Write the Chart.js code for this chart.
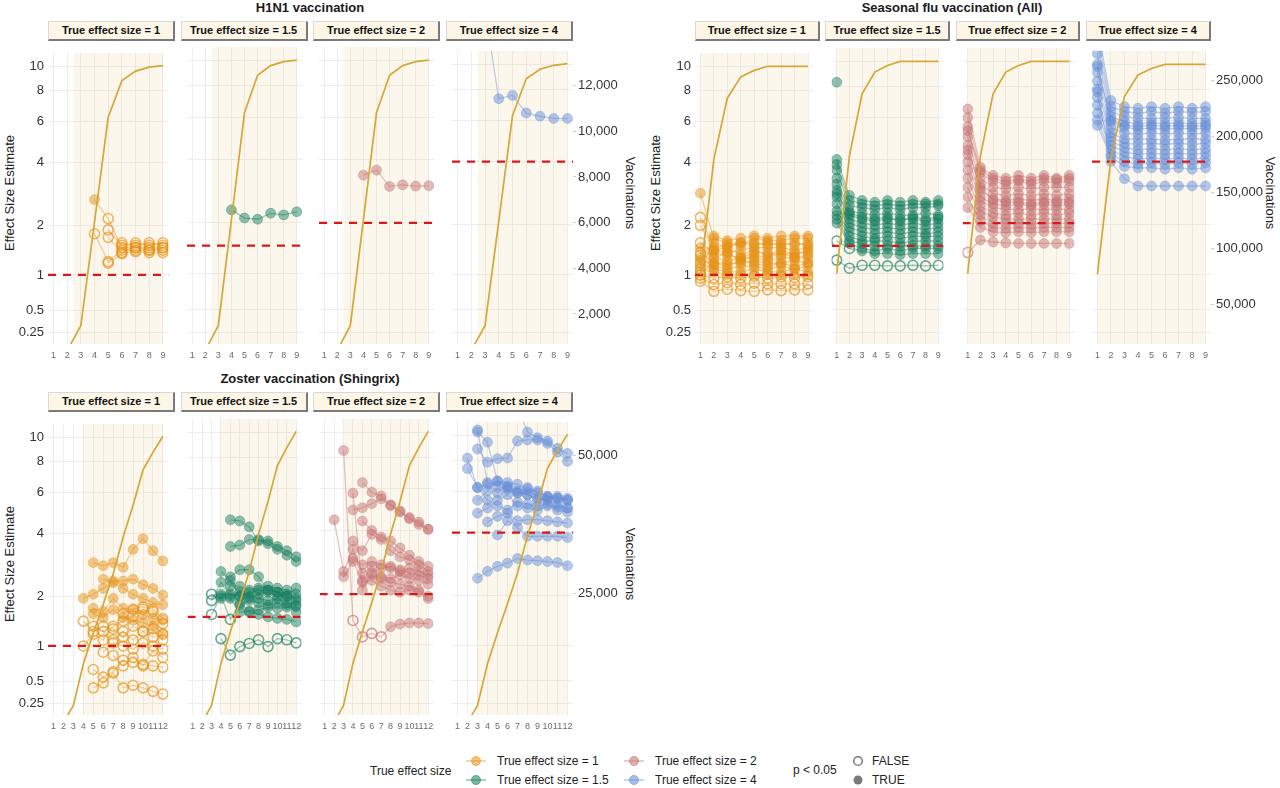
<!DOCTYPE html>
<html>
<head>
<meta charset="utf-8">
<script src="https://cdn.jsdelivr.net/npm/chart.js@4.4.1/dist/chart.umd.min.js"></script>
<style>
  body { margin: 0; background: #fff; font-family: "Liberation Sans", Arial, sans-serif; }
  #wrap { position: relative; width: 1280px; height: 788px; overflow: hidden; }
  #wrap canvas { position: absolute; }
  .title { position: absolute; font-weight: bold; font-size: 13px; color: #1a1a1a; white-space: nowrap; transform: translateX(-50%); line-height: 15px; }
  .strip { position: absolute; height: 20px; background: #fdf6e6; box-sizing: border-box;
           border-top: 1px solid #d8d8d8; border-left: 1px solid #d8d8d8;
           border-right: 2px solid #7a7a7a; border-bottom: 2px solid #7a7a7a;
           font-weight: bold; font-size: 11px; text-align: center; line-height: 17px; color: #111; white-space: nowrap; }
  .ytitle, .y2title { position: absolute; font-size: 13px; color: #222; white-space: nowrap; line-height: 15px; }
  .ytitle { transform: translate(-50%, -50%) rotate(-90deg); }
  .y2title { transform: translate(-50%, -50%) rotate(90deg); }
  .lg { position: absolute; font-size: 12px; color: #222; white-space: nowrap; line-height: 14px; }
  .lg svg { position: absolute; }
</style>
</head>
<body>
<div id="wrap"></div>
<script>
// ---- données ----
const n = null;
const trueEffects = [1, 1.5, 2, 4];
const effectTicks = [0.25, 0.5, 1, 2, 4, 6, 8, 10];
const panelLabels = ['True effect size = 1', 'True effect size = 1.5', 'True effect size = 2', 'True effect size = 4'];

const h1n1Weeks = [1, 2, 3, 4, 5, 6, 7, 8, 9];
const seasonWeeks = [1, 2, 3, 4, 5, 6, 7, 8, 9];
const zosterWeeks = [1, 2, 3, 4, 5, 6, 7, 8, 9, 10, 11, 12];

// vaccinations cumulées (axe de droite)
const h1n1Vacc = [0, 400, 1490, 6060, 10680, 12300, 12720, 12890, 12960];
const seasonVacc = [76800, 180600, 235700, 254900, 260700, 264400, 264400, 264400, 264400];
const zosterVacc = [0, 1500, 4620, 12170, 17800, 23070, 28630, 35360, 41210, 47660, 50880, 53810];
const h1n1VaccTicks = [2000, 4000, 6000, 8000, 10000, 12000];
const seasonVaccTicks = [50000, 100000, 150000, 200000, 250000];
const zosterVaccTicks = [25000, 50000];

// début de la zone ombrée (semaine)
const h1n1Shade = [2.45, 2.45, 2.45, 2.45];
const seasonShade = [1, 1, 1, 1];
const zosterShade = [3.9, 3.9, 3.0, 2.9];

// H1N1
const h1n1Es1 = [
  [n, n, n, 2.7, 2.17, 1.5, 1.5, 1.5, 1.5],
  [n, n, n, 1.8, 1.23, 1.45, 1.45, 1.45, 1.45],
  [n, n, n, n, 1.89, 1.55, 1.6, 1.55, 1.6],
  [n, n, n, n, 1.72, 1.4, 1.42, 1.4, 1.4],
  [n, n, n, n, 1.2, 1.38, 1.55, 1.6, 1.55],
  [n, n, n, n, n, 1.6, 1.5, 1.45, 1.5]
];
const h1n1Sig1 = ['000100000', '0', '0', '0', '0', '0'];
const h1n1Es15 = [[n, n, n, 2.33, 2.12, 2.09, 2.24, 2.2, 2.28]];
const h1n1Sig15 = ['1'];
const h1n1Es2 = [[n, n, n, 3.4, 3.58, 3.02, 3.07, 3.03, 3.04]];
const h1n1Sig2 = ['1'];
const h1n1Es4 = [[n, n, 16, 7.33, 7.55, 6.41, 6.22, 6.09, 6.09]];
const h1n1Sig4 = ['1'];

// Grippe saisonnière
const seasonEs1 = [
  [2.9, 1.7, 1.6, 1.55, 1.7, 1.65, 1.65, 1.7, 1.7],
  [2.2, 1.5, 1.55, 1.6, 1.6, 1.55, 1.6, 1.55, 1.6],
  [2.0, 1.45, 1.4, 1.45, 1.5, 1.5, 1.5, 1.45, 1.5],
  [1.6, 1.4, 1.35, 1.3, 1.4, 1.4, 1.35, 1.4, 1.4],
  [1.5, 1.3, 1.25, 1.3, 1.3, 1.25, 1.3, 1.3, 1.3],
  [1.4, 1.2, 1.2, 1.2, 1.25, 1.2, 1.2, 1.25, 1.2],
  [1.3, 1.15, 1.1, 1.15, 1.15, 1.1, 1.15, 1.1, 1.15],
  [1.2, 1.1, 1.05, 1.05, 1.1, 1.05, 1.05, 1.1, 1.05],
  [1.1, 1.05, 1.0, 1.0, 1.0, 1.0, 1.0, 1.0, 1.0],
  [1.25, 1.45, 1.5, 1.35, 1.45, 1.35, 1.45, 1.35, 1.45],
  [1.0, 0.95, 0.97, 0.95, 0.98, 0.95, 0.97, 0.96, 0.97],
  [0.95, 0.85, 0.88, 0.85, 0.87, 0.86, 0.86, 0.86, 0.86],
  [0.9, 0.75, 0.78, 0.76, 0.75, 0.77, 0.76, 0.77, 0.77],
  [1.35, 1.6, 1.5, 1.6, 1.55, 1.6, 1.55, 1.6, 1.55],
  [1.15, 1.3, 1.4, 1.25, 1.35, 1.3, 1.4, 1.3, 1.35],
  [1.05, 1.2, 1.15, 1.25, 1.2, 1.15, 1.2, 1.15, 1.2],
  [1.0, 1.75, 1.65, 1.7, 1.75, 1.7, 1.75, 1.75, 1.75]
];
const seasonSig1 = ['1', '011111111', '011111111', '011111111', '1', '011111111', '1', '011111111', '011111111',
  '1', '0', '0', '0', '011111111', '1', '011111111', '011111111'];
const seasonEs15 = [
  [4.0, 2.75, 2.6, 2.55, 2.6, 2.55, 2.6, 2.55, 2.6],
  [3.8, 2.6, 2.5, 2.45, 2.5, 2.45, 2.5, 2.5, 2.5],
  [3.6, 2.45, 2.4, 2.35, 2.4, 2.35, 2.4, 2.4, 2.45],
  [3.3, 2.3, 2.25, 2.2, 2.25, 2.2, 2.2, 2.25, 2.2],
  [3.1, 2.2, 2.1, 2.05, 2.1, 2.1, 2.1, 2.05, 2.1],
  [2.9, 2.1, 2.0, 1.95, 2.0, 1.95, 2.0, 1.95, 2.0],
  [2.8, 2.25, 2.15, 2.1, 2.15, 2.05, 2.15, 2.1, 2.15],
  [2.7, 2.0, 1.9, 1.85, 1.9, 1.85, 1.9, 1.85, 1.9],
  [2.5, 1.9, 1.8, 1.75, 1.8, 1.75, 1.8, 1.75, 1.8],
  [2.3, 1.8, 1.7, 1.65, 1.7, 1.65, 1.7, 1.7, 1.7],
  [2.2, 1.7, 1.6, 1.6, 1.6, 1.55, 1.6, 1.6, 1.6],
  [2.1, 1.6, 1.55, 1.5, 1.5, 1.5, 1.5, 1.5, 1.5],
  [2.0, 1.55, 1.45, 1.4, 1.45, 1.4, 1.45, 1.45, 1.45],
  [1.6, 1.45, 1.4, 1.35, 1.35, 1.33, 1.35, 1.35, 1.35],
  [1.23, 1.09, 1.14, 1.14, 1.13, 1.13, 1.14, 1.13, 1.14],
  [8.3, n, n, n, n, n, n, n, n]
];
const seasonSig15 = ['1', '1', '1', '1', '1', '1', '1', '1', '1', '1', '1', '1', '1', '001111111', '0', '1'];
const seasonEs2 = [
  [6.5, 3.7, 3.4, 3.3, 3.4, 3.3, 3.4, 3.3, 3.4],
  [6.0, 3.5, 3.2, 3.1, 3.2, 3.1, 3.2, 3.15, 3.2],
  [5.5, 3.3, 3.0, 2.95, 3.0, 2.95, 3.0, 3.0, 3.0],
  [5.3, 3.6, 3.3, 3.2, 3.25, 3.2, 3.3, 3.25, 3.3],
  [5.0, 3.1, 2.8, 2.75, 2.8, 2.75, 2.8, 2.75, 2.8],
  [4.6, 2.9, 2.65, 2.6, 2.65, 2.6, 2.65, 2.6, 2.65],
  [4.4, 3.0, 2.6, 2.55, 2.55, 2.5, 2.55, 2.55, 2.55],
  [4.2, 2.7, 2.5, 2.45, 2.5, 2.45, 2.5, 2.45, 2.5],
  [3.9, 2.6, 2.4, 2.35, 2.35, 2.35, 2.35, 2.35, 2.35],
  [3.6, 2.45, 2.25, 2.2, 2.25, 2.2, 2.25, 2.2, 2.25],
  [3.3, 2.3, 2.15, 2.1, 2.1, 2.1, 2.1, 2.1, 2.1],
  [3.0, 2.2, 2.0, 2.0, 2.0, 1.98, 2.0, 2.0, 2.0],
  [2.7, 2.05, 1.9, 1.88, 1.9, 1.88, 1.9, 1.9, 1.9],
  [2.4, 1.9, 1.8, 1.78, 1.8, 1.78, 1.8, 1.8, 1.8],
  [1.37, 1.62, 1.58, 1.56, 1.55, 1.55, 1.55, 1.55, 1.55]
];
const seasonSig2 = ['1', '1', '1', '1', '1', '1', '1', '1', '1', '1', '1', '1', '1', '1', '011111111'];
const seasonEs4 = [
  [14, 7.2, 6.8, 6.7, 6.8, 6.7, 6.8, 6.7, 6.8],
  [13, 6.8, 6.5, 6.4, 6.5, 6.4, 6.5, 6.45, 6.5],
  [12, 6.5, 6.2, 6.1, 6.1, 6.1, 6.15, 6.1, 6.1],
  [11, 6.2, 5.9, 5.8, 5.85, 5.8, 5.85, 5.8, 5.85],
  [10, 5.9, 5.6, 5.5, 5.55, 5.5, 5.55, 5.5, 5.55],
  [9.8, 6.0, 5.7, 5.65, 5.7, 5.65, 5.7, 5.65, 5.7],
  [9.3, 5.6, 5.3, 5.25, 5.3, 5.25, 5.3, 5.25, 5.3],
  [8.6, 5.3, 5.0, 5.0, 5.0, 4.95, 5.0, 5.0, 5.0],
  [8.0, 5.1, 4.8, 4.75, 4.8, 4.75, 4.8, 4.75, 4.8],
  [7.4, 4.9, 4.6, 4.5, 4.55, 4.5, 4.55, 4.5, 4.55],
  [6.9, 4.7, 4.4, 4.3, 4.35, 4.3, 4.35, 4.3, 4.35],
  [6.4, 4.5, 4.2, 4.1, 4.15, 4.1, 4.15, 4.1, 4.15],
  [6.0, 4.3, 4.0, 3.9, 3.95, 3.9, 3.95, 3.9, 3.95],
  [5.7, 4.2, 3.8, 3.75, 3.75, 3.7, 3.75, 3.7, 3.75],
  [7.8, 4.0, 3.35, 3.1, 3.1, 3.1, 3.1, 3.1, 3.1]
];
const seasonSig4 = ['1', '1', '1', '1', '1', '1', '1', '1', '1', '1', '1', '1', '1', '1', '1'];

// Zona (Shingrix)
const zosterEs1 = [
  [n, n, n, n, 2.95, 2.85, 2.95, 2.8, 3.4, 3.8, 3.35, 3.0],
  [n, n, n, 1.95, 2.05, 2.2, 2.4, 2.4, 2.45, 2.3, 2.2, 2.03],
  [n, n, n, n, 1.72, 1.65, 1.95, 1.72, 1.69, 1.58, 1.5, 1.47],
  [n, n, n, n, 1.6, 1.52, 1.69, 1.52, 1.47, 1.42, 1.35, 1.22],
  [n, n, n, 1.45, 1.25, 1.35, 1.3, 1.15, 1.35, 1.25, 1.15, 1.2],
  [n, n, n, 1.0, 1.2, 1.1, 1.35, 1.45, 1.55, 1.7, 1.65, 1.4],
  [n, n, n, n, 0.65, 0.55, 0.62, 0.78, 0.75, 0.72, 0.7, 0.68],
  [n, n, n, n, 0.42, 0.48, 0.6, 0.42, 0.45, 0.42, 0.38, 0.35],
  [n, n, n, n, n, n, 0.85, 0.7, 0.82, 0.7, 0.92, 0.82],
  [n, n, n, n, n, n, n, 1.6, 1.7, 1.75, 1.7, 1.5],
  [n, n, n, n, n, 0.9, 1.05, 1.0, 0.95, 1.05, 1.0, 0.95],
  [n, n, n, n, 1.35, 1.25, 1.1, 1.25, 1.1, 1.25, 1.3, 1.1],
  [n, n, n, n, n, 2.45, 2.35, 2.2, 2.05, 1.95, 1.85, 1.8]
];
const zosterSig1 = ['1', '1', '1', '1', '0', '0', '0', '0', '0', '0', '0', '0', '1'];
const zosterEs15 = [
  [n, n, n, n, 4.45, 4.4, 4.15, 3.6, 3.6, 3.4, 3.25, 3.05],
  [n, n, n, n, 3.4, 3.45, 3.65, 3.65, 3.5, 3.3, 3.1, 2.9],
  [n, n, n, 2.6, 2.35, 1.95, 1.9, 2.0, 2.05, 1.95, 1.95, 1.9],
  [n, n, n, n, 2.45, 2.65, 2.65, 2.45, 2.1, 2.05, 2.0, 2.15],
  [n, n, n, 2.0, 2.0, 1.95, 2.05, 2.1, 2.1, 2.05, 1.95, 1.85],
  [n, n, n, n, 1.9, 1.6, 1.62, 1.65, 1.7, 1.68, 1.7, 1.72],
  [n, n, n, n, n, 1.8, 1.6, 1.55, 1.5, 1.47, 1.45, 1.4],
  [n, n, 2.0, 1.9, 2.2, 2.2, 2.1, 2.15, 2.2, 2.15, 2.1, 2.0],
  [n, n, 1.85, 2.3, 1.95, 2.05, 1.95, 1.9, 1.85, 1.9, 1.8, 1.75],
  [n, n, 1.55, 1.95, 1.45, 1.75, 1.85, 1.8, 1.75, 1.8, 1.75, 1.6],
  [n, n, n, 1.1, 0.84, 0.97, 1.02, 1.08, 0.97, 1.1, 1.08, 1.03]
];
const zosterSig15 = ['1', '1', '1', '1', '1', '1', '1', '000111111111', '000111111111', '000101111111', '0'];
const zosterEs2 = [
  [n, 4.45, 2.6, 3.3, 2.55, 2.75, 2.45, 2.4, 2.5, 2.4, 2.35, 2.25],
  [n, n, 8.5, 1.43, 1.13, 1.19, 1.13, 1.31, 1.36, 1.38, 1.38, 1.37],
  [n, n, n, 5.75, 2.1, 2.5, 2.4, 2.3, 2.25, 2.2, 2.1, 1.95],
  [n, n, n, n, 6.35, 5.8, 5.6, 5.15, 4.85, 4.55, 4.35, 4.05],
  [n, n, n, 4.9, 5.0, 5.2, 5.45, 5.1, 4.8, 4.5, 4.25, 4.05],
  [n, n, n, n, 4.4, 4.0, 3.75, 3.6, 3.35, 3.1, 2.9, 2.75],
  [n, n, n, 3.6, 3.25, 3.85, 3.65, 3.25, 3.05, 2.95, 2.8, 2.6],
  [n, n, 2.45, 2.9, 2.35, 2.55, 2.7, 2.75, 2.65, 2.55, 2.5, 2.4],
  [n, n, n, 3.0, 2.8, 2.9, 2.8, 2.7, 2.6, 2.7, 2.6, 2.5],
  [n, n, n, n, 2.3, 2.35, 2.2, 2.1, 2.05, 2.1, 2.05, 1.9]
];
const zosterSig2 = ['1', '001000011111', '1', '1', '1', '1', '1', '1', '1', '1'];
const zosterEs4 = [
  [n, n, 10.5, 6.5, 6.3, 6.1, 5.9, 5.8, 5.6, 5.5, 5.3, 5.1],
  [n, n, n, n, n, n, 13, 10.3, 9.8, 9.5, 8.9, 8.5],
  [n, n, 8.85, 7.85, 8.1, 8.15, 9.5, 9.6, 9.6, 9.3, 8.6, 7.9],
  [n, 8.15, 6.2, 6.4, 5.9, 6.3, 6.0, 5.8, 5.5, 5.6, 5.7, 5.5],
  [n, n, 10.3, 9.4, 6.6, 6.5, 6.4, 6.1, 6.0, 5.7, 5.6, 5.5],
  [n, n, 5.5, 6.0, 6.6, 6.2, 5.9, 6.2, 5.9, 5.7, 5.6, 5.6],
  [n, n, 4.85, 5.1, 5.5, 5.8, 5.2, 5.1, 5.0, 5.2, 5.15, 5.1],
  [n, n, n, 4.45, 4.7, 4.85, 4.5, 4.55, 4.55, 4.5, 4.45, 4.4],
  [n, n, n, n, 3.9, 4.5, 4.2, 3.85, 3.85, 3.85, 3.85, 3.8],
  [n, n, 2.45, 2.65, 2.8, 2.9, 3.05, 3.0, 2.98, 2.95, 2.92, 2.82],
  [n, 7.4, 6.2, 5.5, 5.2, 5.0, 5.4, 5.3, 5.2, 5.3, 5.0, 4.9]
];
const zosterSig4 = ['1', '1', '1', '1', '1', '1', '1', '1', '1', '1', '1'];

// ---- styles ----
const seriesRgb = ['230,145,20', '20,125,95', '196,112,112', '100,140,215'];
const CURVE = '#d6a736';
const SHADE = 'rgba(236,206,140,0.16)';
const GRID = 'rgb(238,238,238)';
const REF = '#d7191c';
const Y_MIN = 0.1376, Y_MAX = 11.28;
const PLOT_H = 303;

Chart.defaults.font.family = '"Liberation Sans", Arial, sans-serif';

// échelle log(1 + y), comme l'axe de la figure
class Log1pScale extends Chart.Scale {
  determineDataLimits() {
    this.min = this.options.min;
    this.max = this.options.max;
  }
  buildTicks() {
    return effectTicks.map(v => ({ value: v }));
  }
  configure() {
    super.configure();
    this._a = Math.log1p(this.min);
    this._b = Math.log1p(this.max);
  }
  getPixelForValue(v) {
    return this.getPixelForDecimal((Math.log1p(v) - this._a) / (this._b - this._a));
  }
  getValueForPixel(p) {
    return Math.expm1(this._a + this.getDecimalForPixel(p) * (this._b - this._a));
  }
}
Log1pScale.id = 'log1p';
Log1pScale.defaults = {};
Chart.register(Log1pScale);

const groups = [
  { title: 'H1N1 vaccination', titleX: 310, titleY: 0, top: 41, lefts: [48, 180.6, 313.2, 445.8], width: 127,
    weeks: h1n1Weeks, vacc: h1n1Vacc, vMin: 686, vMax: 13525, vTicks: h1n1VaccTicks, shade: h1n1Shade,
    est: [h1n1Es1, h1n1Es15, h1n1Es2, h1n1Es4], sig: [h1n1Sig1, h1n1Sig15, h1n1Sig2, h1n1Sig4],
    padL: 44, padR: 62, yTitleX: 9, y2TitleX: 630 },
  { title: 'Seasonal flu vaccination (All)', titleX: 952, titleY: 0, top: 41, lefts: [695, 825.3, 955.6, 1086], width: 124.5,
    weeks: seasonWeeks, vacc: seasonVacc, vMin: 14548, vMax: 276546, vTicks: seasonVaccTicks, shade: seasonShade,
    est: [seasonEs1, seasonEs15, seasonEs2, seasonEs4], sig: [seasonSig1, seasonSig15, seasonSig2, seasonSig4],
    padL: 40, padR: 66, yTitleX: 655, y2TitleX: 1270 },
  { title: 'Zoster vaccination (Shingrix)', titleX: 310, titleY: 371, top: 412, lefts: [48, 180.6, 313.2, 445.8], width: 127,
    weeks: zosterWeeks, vacc: zosterVacc, vMin: 2864, vMax: 56096, vTicks: zosterVaccTicks, shade: zosterShade,
    est: [zosterEs1, zosterEs15, zosterEs2, zosterEs4], sig: [zosterSig1, zosterSig15, zosterSig2, zosterSig4],
    padL: 44, padR: 62, yTitleX: 9, y2TitleX: 630 }
];

const wrap = document.getElementById('wrap');

function addDiv(cls, html, css) {
  const d = document.createElement('div');
  d.className = cls;
  d.innerHTML = html;
  Object.assign(d.style, css);
  wrap.appendChild(d);
  return d;
}

const isSig = (s, k) => (s.length === 1 ? s : s[k]) === '1';

function makePanel(g, i) {
  const first = i === 0, last = i === 3;
  const padL = first ? g.padL : 0, padR = last ? g.padR : 0;
  const left = Math.round(g.lefts[i] - padL);
  const w = Math.round(g.width + padL + padR);
  const cv = document.createElement('canvas');
  cv.width = w;
  cv.height = PLOT_H + 22;
  cv.style.left = left + 'px';
  cv.style.top = g.top + 'px';
  wrap.appendChild(cv);

  const nW = g.weeks.length;
  const ext = 0.05 * (nW - 1);
  const xmin = 1 - ext, xmax = nW + ext;
  const rgb = seriesRgb[i];

  const datasets = [];
  // zone ombrée
  datasets.push({
    data: [{ x: g.shade[i], y: g.vMax }, { x: g.weeks[nW - 1], y: g.vMax }],
    yAxisID: 'y2', fill: 'start', backgroundColor: SHADE, borderWidth: 0, pointRadius: 0, order: 100
  });
  // estimations
  g.est[i].forEach((row, r) => {
    const sig = g.sig[i][r];
    datasets.push({
      data: g.weeks.map((x, k) => ({ x, y: row[k] })),
      yAxisID: 'y',
      borderColor: `rgba(${rgb},0.42)`,
      borderWidth: 1.3,
      pointRadius: 5,
      pointBackgroundColor: g.weeks.map((x, k) => isSig(sig, k) ? `rgba(${rgb},0.48)` : 'rgba(0,0,0,0)'),
      pointBorderColor: g.weeks.map((x, k) => isSig(sig, k) ? `rgba(${rgb},0.35)` : `rgba(${rgb},0.65)`),
      pointBorderWidth: g.weeks.map((x, k) => isSig(sig, k) ? 1 : 1.6),
      spanGaps: false,
      order: 10
    });
  });
  // vraie valeur
  datasets.push({
    data: [{ x: xmin, y: trueEffects[i] }, { x: xmax, y: trueEffects[i] }],
    yAxisID: 'y', borderColor: REF, borderWidth: 2.2, borderDash: [8, 7], pointRadius: 0, order: 2
  });
  // vaccinations
  datasets.push({
    data: g.weeks.map((x, k) => ({ x, y: g.vacc[k] })),
    yAxisID: 'y2', borderColor: CURVE, borderWidth: 1.7, pointRadius: 0, order: 1
  });

  new Chart(cv, {
    type: 'line',
    data: { datasets },
    options: {
      responsive: false,
      animation: false,
      events: [],
      layout: { padding: 0 },
      plugins: { legend: { display: false }, tooltip: { enabled: false } },
      scales: {
        x: {
          type: 'linear', min: xmin, max: xmax,
          afterBuildTicks: s => { s.ticks = g.weeks.map(v => ({ value: v })); },
          afterFit: s => { s.height = 22; },
          grid: { color: GRID, lineWidth: 1, drawTicks: false },
          border: { display: false },
          ticks: { autoSkip: false, maxRotation: 0, padding: 6, font: { size: 9 }, color: '#6b6b6b' }
        },
        y: {
          type: 'log1p', position: 'left', min: Y_MIN, max: Y_MAX,
          afterFit: s => { s.width = padL; },
          grid: { color: GRID, lineWidth: 1, drawTicks: false },
          border: { display: false },
          ticks: { display: first, padding: 4, font: { size: 13 }, color: '#333', callback: v => String(v) }
        },
        y2: {
          type: 'linear', position: 'right', min: g.vMin, max: g.vMax, display: last,
          afterBuildTicks: s => { s.ticks = g.vTicks.map(v => ({ value: v })); },
          afterFit: s => { s.width = padR; },
          grid: { drawOnChartArea: false, drawTicks: true, tickLength: 3, tickColor: '#d0d0d0' },
          border: { display: false },
          ticks: { padding: 2, font: { size: 13 }, color: '#333', callback: v => v.toLocaleString('en-US') }
        }
      }
    }
  });

  addDiv('strip', panelLabels[i], {
    left: g.lefts[i] + 'px', top: (g.top - 20) + 'px', width: g.width + 'px'
  });
}

groups.forEach(g => {
  addDiv('title', g.title, { left: g.titleX + 'px', top: g.titleY + 'px' });
  addDiv('ytitle', 'Effect Size Estimate', { left: g.yTitleX + 'px', top: (g.top + PLOT_H / 2) + 'px' });
  addDiv('y2title', 'Vaccinations', { left: g.y2TitleX + 'px', top: (g.top + PLOT_H / 2) + 'px' });
  for (let i = 0; i < 4; i++) makePanel(g, i);
});

// ---- légende ----
function sym(rgb) {
  return `<svg width="22" height="12" style="left:-11px;top:-6px"><line x1="1" y1="6" x2="21" y2="6" stroke="rgba(${rgb},0.55)" stroke-width="1.3"/>` +
    `<circle cx="11" cy="6" r="4.5" fill="rgba(${rgb},0.55)" stroke="rgba(${rgb},0.6)"/></svg>`;
}
addDiv('lg', 'True effect size', { left: '370px', top: '764px' });
const legendPos = [[476, 761], [476, 780], [634, 761], [634, 780]];
const legendText = ['True effect size = 1', 'True effect size = 1.5', 'True effect size = 2', 'True effect size = 4'];
legendPos.forEach(([x, y], k) => {
  addDiv('lg', sym(seriesRgb[k]), { left: x + 'px', top: y + 'px' });
  addDiv('lg', legendText[k], { left: (x + 21) + 'px', top: (y - 7) + 'px' });
});
addDiv('lg', 'p &lt; 0.05', { left: '793px', top: '763px' });
addDiv('lg', '<svg width="12" height="12" style="left:-6px;top:-6px"><circle cx="6" cy="6" r="4.3" fill="none" stroke="#777" stroke-width="1.5"/></svg>', { left: '858px', top: '761px' });
addDiv('lg', '<svg width="12" height="12" style="left:-6px;top:-6px"><circle cx="6" cy="6" r="4.5" fill="#7a7a7a"/></svg>', { left: '858px', top: '780px' });
addDiv('lg', 'FALSE', { left: '872px', top: '754px' });
addDiv('lg', 'TRUE', { left: '872px', top: '773px' });
</script>
</body>
</html>
